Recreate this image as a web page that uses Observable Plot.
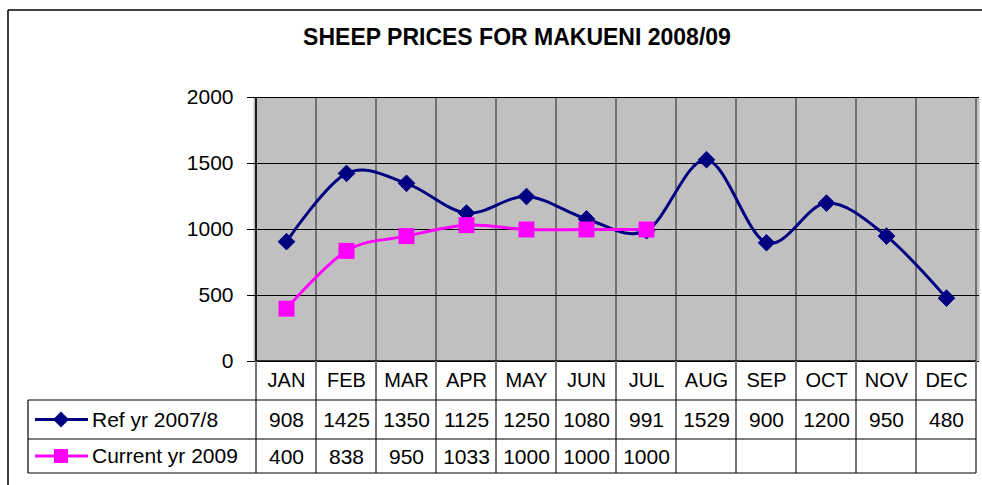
<!DOCTYPE html>
<html><head><meta charset="utf-8">
<script src="https://cdn.jsdelivr.net/npm/d3@7"></script>
<script src="https://cdn.jsdelivr.net/npm/@observablehq/plot@0.6"></script>
<style>body{margin:0;background:#fff} svg{display:block}</style>
</head><body><div id="chart"></div>
<script>
const title = "SHEEP PRICES FOR MAKUENI 2008/09";
const months = ["JAN","FEB","MAR","APR","MAY","JUN","JUL","AUG","SEP","OCT","NOV","DEC"];
const refLabel = "Ref yr 2007/8";
const curLabel = "Current yr 2009";
const refValues = [908,1425,1350,1125,1250,1080,991,1529,900,1200,950,480];
const curValues = [400,838,950,1033,1000,1000,1000];
const yTicks = [0,500,1000,1500,2000];

const ref = months.map((m,i)=>({month:m, value:refValues[i]}));
const cur = curValues.map((v,i)=>({month:months[i], value:v}));

const NAVY = "#000080", MAG = "#ff00ff";
const FONT = "'Liberation Sans', Arial, sans-serif";

const chart = Plot.plot({
  width: 982, height: 485,
  marginLeft: 253, marginRight: 3, marginTop: 97, marginBottom: 124,
  style: {fontFamily: FONT, fontSize: "21px", color: "#000", background: "#fff", overflow: "visible"},
  x: {type: "band", domain: months, padding: 0, axis: null},
  y: {domain: [0, 2000], ticks: yTicks, tickSize: 6, tickPadding: 14, label: null, tickFormat: d => String(d)},
  marks: [
    Plot.frame({fill: "#c0c0c0", stroke: null}),
    Plot.gridY(yTicks, {stroke: "#000", strokeOpacity: 1, strokeWidth: 1}),
    Plot.line(ref, {x: "month", y: "value", stroke: NAVY, strokeWidth: 3, curve: "cardinal"}),
    Plot.line(cur, {x: "month", y: "value", stroke: MAG, strokeWidth: 3, curve: "cardinal"}),
    Plot.dot(ref, {x: "month", y: "value", symbol: "diamond2", fill: NAVY, stroke: NAVY, strokeWidth: 1, r: 7.5}),
    Plot.dot(cur, {x: "month", y: "value", symbol: "square", fill: MAG, stroke: null, r: 9}),
    Plot.text(months, {x: d => d, y: () => 0, dy: 19, text: d => d, fontSize: 20, fill: "#000"}),
    Plot.text(ref, {x: "month", y: () => 0, dy: 59, text: d => String(d.value), fontSize: 21, fill: "#000"}),
    Plot.text(cur, {x: "month", y: () => 0, dy: 96, text: d => String(d.value), fontSize: 21, fill: "#000"})
  ]
});
document.getElementById("chart").appendChild(chart);

const svg = d3.select(chart);
const xs = chart.scale("x"), ys = chart.scale("y");
const bw = xs.bandwidth;
const x0 = xs.apply(months[0]);
const x1 = xs.apply(months[months.length-1]) + bw;
const yTop = ys.apply(2000), yBase = ys.apply(0);
const bounds = months.map(m => xs.apply(m)).concat([x1]);
const row1 = yBase + 39, row2 = yBase + 78, row3 = yBase + 112;
const tableLeft = 28;

// vertical plot-area dividers behind the series
const gGrid = svg.insert("g", 'g[aria-label="line"]');
gGrid.selectAll("line").data(bounds).join("line")
  .attr("x1", d => d).attr("x2", d => d).attr("y1", yTop).attr("y2", yBase)
  .attr("stroke", "#222").attr("stroke-width", 1);

const g = svg.append("g").attr("text-anchor", "start");
// axes lines
g.append("line").attr("x1", x0).attr("x2", x0).attr("y1", yTop).attr("y2", yBase).attr("stroke", "#000").attr("stroke-width", 1.5);
g.append("line").attr("x1", x0).attr("x2", x1).attr("y1", yBase).attr("y2", yBase).attr("stroke", "#000").attr("stroke-width", 1.5);
// table verticals
g.selectAll("line.tv").data(bounds).join("line").attr("class","tv")
  .attr("x1", d => d).attr("x2", d => d).attr("y1", yBase).attr("y2", row3)
  .attr("stroke", "#777").attr("stroke-width", 2);
// table horizontals
[row1, row2, row3].forEach(yy => {
  g.append("line").attr("x1", tableLeft).attr("x2", x1).attr("y1", yy).attr("y2", yy)
    .attr("stroke", "#000").attr("stroke-width", 1.2);
});
g.append("line").attr("x1", tableLeft).attr("x2", tableLeft).attr("y1", row1).attr("y2", row3)
  .attr("stroke", "#000").attr("stroke-width", 1.2);

// legend keys
const legend = [
  {label: refLabel, color: NAVY, sym: "diamond", y: (row1 + row2) / 2},
  {label: curLabel, color: MAG, sym: "square", y: (row2 + row3) / 2}
];
legend.forEach(l => {
  g.append("line").attr("x1", 35).attr("x2", 88).attr("y1", l.y).attr("y2", l.y)
    .attr("stroke", l.color).attr("stroke-width", 3);
  if (l.sym === "diamond") {
    g.append("path").attr("d", `M61,${l.y-8}L69,${l.y}L61,${l.y+8}L53,${l.y}Z`).attr("fill", l.color);
  } else {
    g.append("rect").attr("x", 54).attr("y", l.y-7).attr("width", 14).attr("height", 14).attr("fill", l.color);
  }
  g.append("text").attr("x", 92).attr("y", l.y).attr("dy", "0.35em").attr("text-anchor", "start")
    .attr("font-family", FONT).attr("font-size", 21).attr("fill", "#000").text(l.label);
});

// title
g.append("text").attr("x", 517).attr("y", 37).attr("dy", "0.35em").attr("text-anchor", "middle")
  .attr("font-family", FONT).attr("font-size", 23).attr("font-weight", "bold").attr("fill", "#000").text(title);

// outer chart border
g.append("line").attr("x1", 8).attr("x2", 982).attr("y1", 10).attr("y2", 10).attr("stroke", "#000").attr("stroke-width", 1.5);
g.append("line").attr("x1", 8).attr("x2", 8).attr("y1", 10).attr("y2", 485).attr("stroke", "#000").attr("stroke-width", 1.5);
</script>
</body></html>
